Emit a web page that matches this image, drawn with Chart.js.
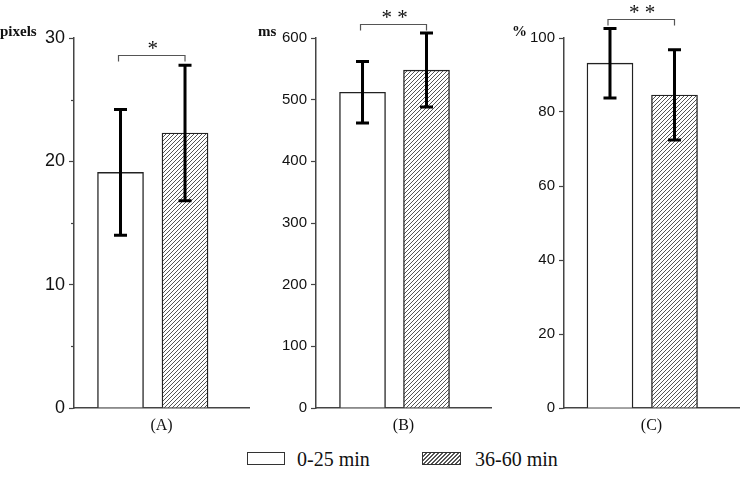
<!DOCTYPE html>
<html>
<head>
<meta charset="utf-8">
<script src="https://cdn.jsdelivr.net/npm/chart.js@4.4.1/dist/chart.umd.min.js"></script>
<style>
  html, body { margin: 0; padding: 0; background: #fff; }
  #page { position: relative; width: 749px; height: 481px; overflow: hidden; background: #fff; }
  .panel { position: absolute; top: 0; height: 440px; }
  .swatch { position: absolute; top: 452px; height: 13px; box-sizing: border-box; border: 1px solid #333; background: #fff; }
  .swatch.hatched { background: repeating-linear-gradient(135deg, #fff 0 2px, #555 2px 2.83px); }
  .ltext { position: absolute; top: 448px; line-height: 22px; font: 20px 'Liberation Serif', 'Times New Roman', serif; color: #111; white-space: nowrap; }
</style>
</head>
<body>
<div id="page">
  <div class="panel" style="left:0;width:250px"><canvas id="chartA"></canvas></div>
  <div class="panel" style="left:250px;width:250px"><canvas id="chartB"></canvas></div>
  <div class="panel" style="left:500px;width:249px"><canvas id="chartC"></canvas></div>

  <div class="swatch" style="left:247px;width:38px"></div>
  <div class="ltext" style="left:297px">0-25 min</div>
  <div class="swatch hatched" style="left:422px;width:39px"></div>
  <div class="ltext" style="left:475px">36-60 min</div>
</div>

<script>
Chart.defaults.animation = false;
Chart.defaults.events = [];
Chart.defaults.font.family = "'Liberation Sans', Arial, sans-serif";
Chart.defaults.color = '#111';

// Data
const panelLabels = ['(A)', '(B)', '(C)'];
const unitLabels = ['pixels', 'ms', '%'];
const seriesNames = ['0-25 min', '36-60 min'];
const early = [19.1, 512, 93.2];      // 0-25 min mean
const earlySd = [5.1, 50, 9.4];
const late = [22.3, 548, 84.6];       // 36-60 min mean
const lateSd = [5.5, 60, 12.2];
const stars = ['*', '* *', '* *'];
const yMax = [30, 600, 100];
const yStep = [10, 100, 20];

// Panel layout (pixels / axis ranges)
const panelLayout = [
    { id: 'chartA', axisW: 74, padR: 1,  xMin: -0.721, xMax: 1.992, tickSize: 18, minor: 5,    unitX: 0,  bracket: 28.6 },
    { id: 'chartB', axisW: 66, padR: 9,  xMin: -0.727, xMax: 2.008, tickSize: 15, minor: null, unitX: 8,  bracket: 623 },
    { id: 'chartC', axisW: 64, padR: 10, xMin: -0.713, xMax: 2.0,   tickSize: 15, minor: null, unitX: 12, bracket: 105.1 }
];

function makeHatch(ctx) {
    const tile = document.createElement('canvas');
    tile.width = 4; tile.height = 4;
    const g = tile.getContext('2d');
    g.fillStyle = '#fff';
    g.fillRect(0, 0, 4, 4);
    g.strokeStyle = '#555';
    g.lineWidth = 1;
    g.beginPath();
    g.moveTo(0, 4); g.lineTo(4, 0);
    g.moveTo(-1, 1); g.lineTo(1, -1);
    g.moveTo(3, 5); g.lineTo(5, 3);
    g.stroke();
    return ctx.createPattern(tile, 'repeat');
}

// error bars, significance bracket, unit label, minor ticks
const panelExtras = {
    id: 'panelExtras',
    afterDraw(chart, args, opts) {
        const ctx = chart.ctx;
        const y = chart.scales.y;
        const area = chart.chartArea;
        ctx.save();

        // minor ticks
        if (opts.minor) {
            ctx.strokeStyle = '#444';
            ctx.lineWidth = 1.2;
            for (let v = opts.minor; v < y.max; v += opts.minor) {
                if (v % opts.major === 0) continue;
                const py = Math.round(y.getPixelForValue(v)) + 0.5;
                ctx.beginPath();
                ctx.moveTo(area.left - 3, py);
                ctx.lineTo(area.left, py);
                ctx.stroke();
            }
        }

        // error bars
        ctx.strokeStyle = '#000';
        ctx.lineWidth = 3;
        const centers = [];
        chart.data.datasets.forEach((ds, di) => {
            const meta = chart.getDatasetMeta(di);
            meta.data.forEach((bar, i) => {
                const v = ds.data[i].y, e = ds.errors[i];
                const x = bar.x;
                centers.push(x);
                const top = y.getPixelForValue(v + e);
                const bot = y.getPixelForValue(v - e);
                ctx.beginPath();
                ctx.moveTo(x, top); ctx.lineTo(x, bot);
                ctx.moveTo(x - 6.5, top); ctx.lineTo(x + 6.5, top);
                ctx.moveTo(x - 6.5, bot); ctx.lineTo(x + 6.5, bot);
                ctx.stroke();
            });
        });

        // bracket + stars
        const by = Math.round(y.getPixelForValue(opts.bracket)) + 0.5;
        ctx.strokeStyle = '#555';
        ctx.lineWidth = 1.2;
        ctx.beginPath();
        ctx.moveTo(centers[0] - 2, by + 6);
        ctx.lineTo(centers[0] - 2, by);
        ctx.lineTo(centers[1], by);
        ctx.lineTo(centers[1], by + 6);
        ctx.stroke();
        ctx.fillStyle = '#111';
        ctx.font = "21px 'Liberation Serif', serif";
        ctx.textAlign = 'center';
        ctx.textBaseline = 'alphabetic';
        ctx.fillText(opts.stars, (centers[0] + centers[1]) / 2, by - 1);

        // unit label
        ctx.font = "bold 15px 'Liberation Serif', serif";
        ctx.textAlign = 'left';
        ctx.fillText(opts.unit, opts.unitX, 36);
        ctx.restore();
    }
};

panelLayout.forEach((p, i) => {
    const canvas = document.getElementById(p.id);
    const hatch = makeHatch(canvas.getContext('2d'));
    new Chart(canvas, {
        type: 'bar',
        data: {
            datasets: [
                {
                    label: seriesNames[0],
                    data: [{ x: 0, y: early[i] }],
                    errors: [earlySd[i]],
                    grouped: false,
                    barThickness: 46,
                    backgroundColor: '#fff',
                    borderColor: '#222',
                    borderWidth: 1.4
                },
                {
                    label: seriesNames[1],
                    data: [{ x: 1, y: late[i] }],
                    errors: [lateSd[i]],
                    grouped: false,
                    barThickness: 46,
                    backgroundColor: hatch,
                    borderColor: '#222',
                    borderWidth: 1.4
                }
            ]
        },
        options: {
            responsive: true, maintainAspectRatio: false,
            layout: { padding: { top: 38, right: p.padR, left: 0, bottom: 0 } },
            scales: {
                x: {
                    type: 'linear', min: p.xMin, max: p.xMax,
                    offset: false,
                    ticks: { display: false },
                    grid: { display: false },
                    border: { display: true, color: '#444', width: 1.5 },
                    title: {
                        display: true, text: panelLabels[i], color: '#111',
                        font: { family: "'Liberation Serif', serif", size: 16 },
                        padding: { top: 0, bottom: 5 }
                    },
                    afterFit: s => { s.height = 32; }
                },
                y: {
                    min: 0, max: yMax[i],
                    ticks: { stepSize: yStep[i], padding: 4, color: '#111', font: { size: p.tickSize } },
                    grid: { drawOnChartArea: false, drawTicks: true, tickLength: 5, tickColor: '#444', tickWidth: 1.2 },
                    border: { display: true, color: '#444', width: 1.5 },
                    afterFit: s => { s.width = p.axisW; }
                }
            },
            plugins: {
                legend: { display: false },
                tooltip: { enabled: false },
                panelExtras: {
                    minor: p.minor, major: yStep[i], bracket: p.bracket,
                    stars: stars[i], unit: unitLabels[i], unitX: p.unitX
                }
            }
        },
        plugins: [panelExtras]
    });
});
</script>
</body>
</html>
